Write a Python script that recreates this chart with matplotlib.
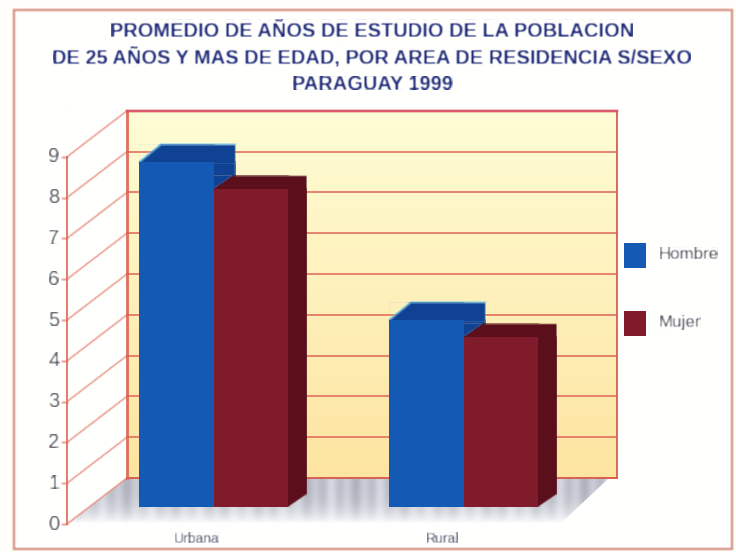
import numpy as np
import matplotlib
matplotlib.use('Agg')
import matplotlib.pyplot as plt
from matplotlib.patches import Polygon, Rectangle

plt.rcParams['font.family'] = ['Liberation Sans', 'DejaVu Sans']

title_lines = ['PROMEDIO DE AÑOS DE ESTUDIO DE LA POBLACION',
               'DE 25 AÑOS Y MAS DE EDAD, POR AREA DE RESIDENCIA S/SEXO',
               'PARAGUAY 1999']
categories = ['Urbana', 'Rural']
series_names = ['Hombre', 'Mujer']
hombre = [8.45, 4.58]
mujer = [7.8, 4.17]
y_ticks = [0, 1, 2, 3, 4, 5, 6, 7, 8, 9]

# layout, in pixels of the 736x552 picture
W, H = 736, 552
PX_PER_UNIT = 40.8
Y0_PX = 524
FRONT_X = 67
BACK_X = 127
BACK_R = 617
FLOOR_FRONT_R = 560
DEPTH_DX = 60
DEPTH_DY = 46 / PX_PER_UNIT
BAR_BASE = 17 / PX_PER_UNIT
BAR_W = 74.5
BAR_X = [139, 389]
GRID = '#e2705f'


def py(p):
    # picture pixel row to value on the y scale
    return (Y0_PX - p) / PX_PER_UNIT


def blur(image, dpi):
    # small box blur, the reference is a soft scan
    out = image.copy()
    for axis in (0, 1):
        out = (np.roll(out, 1, axis) + 2 * out + np.roll(out, -1, axis)) / 4
    return out, 0, 0


def draw_bar(ax, x, value, front, back, dx, dy, edge=None):
    # one box of the pseudo 3d chart, the height comes from the value
    # top and side go in one polygon so no seam shows between them
    b = BAR_BASE
    t = BAR_BASE + value
    d = dy / PX_PER_UNIT
    shell = Polygon([(x, t), (x + dx, t + d), (x + BAR_W + dx, t + d), (x + BAR_W + dx, b + d), (x + BAR_W, b), (x, b)],
                    fc=back, ec='none', zorder=3)
    shell.set_agg_filter(blur)
    ax.add_patch(shell)
    box = Rectangle((x, b), BAR_W, value, fc=front, ec='none', zorder=4)
    box.set_agg_filter(blur)
    ax.add_patch(box)
    if edge:
        ax.plot([x, x + dx, x + BAR_W + dx], [t, t + d, t + d], color=edge, lw=1.0, zorder=3, agg_filter=blur)


fig = plt.figure(figsize=(7.36, 5.52), dpi=100, facecolor='#fffefb')
ax = fig.add_axes([0, 0, 1, 1])
ax.set_xlim(0, W)
ax.set_ylim(py(H), py(0))
ax.axis('off')

# outer frame
frame = Rectangle((14, py(549)), 718, py(10) - py(549), fc='#fffffd', ec='#d4907f', lw=1.6, zorder=0)
frame.set_agg_filter(blur)
ax.add_patch(frame)

# back wall with its yellow gradient
wall_top, wall_bottom = np.array([255, 253, 214]) / 255, np.array([253, 228, 160]) / 255
ramp = np.linspace(0, 1, 200)[:, None, None]
wall = wall_top + (wall_bottom - wall_top) * ramp
ax.imshow(wall, extent=(BACK_X, BACK_R, DEPTH_DY, DEPTH_DY + 9), aspect='auto', zorder=1)

# floor, grey streaks fading towards the front
floor_x = np.arange(FRONT_X, BACK_R)
streaks = 0.76 + 0.04 * np.sin(floor_x / 2.6) + 0.03 * np.sin(floor_x / 7.3)
fade = np.linspace(0, 1, 46)[:, None] ** 3
floor = np.zeros((46, len(floor_x), 3))
floor[..., 0] = streaks * (1 - fade) + fade
floor[..., 1] = (streaks + 0.01) * (1 - fade) + fade
floor[..., 2] = (streaks + 0.05) * (1 - fade) + fade
floor_im = ax.imshow(np.clip(floor, 0, 1), extent=(FRONT_X, BACK_R, 0, DEPTH_DY), aspect='auto', zorder=1, interpolation='bilinear')
floor_clip = Polygon([(FRONT_X, 0), (BACK_X, DEPTH_DY), (BACK_R - 8, DEPTH_DY), (FLOOR_FRONT_R, 0)], transform=ax.transData, fc='none', ec='none')
ax.add_patch(floor_clip)
floor_im.set_clip_path(floor_clip)
ax.set_xlim(0, W)
ax.set_ylim(py(H), py(0))

# grid on both walls and the y axis
for tick in y_ticks:
    back = tick + DEPTH_DY
    ax.plot([FRONT_X, BACK_X], [tick, back], color=GRID, lw=1.0, zorder=2, agg_filter=blur)
    ax.plot([BACK_X, BACK_R], [back, back], color=GRID, lw=1.2, zorder=2, agg_filter=blur)
    ax.plot([FRONT_X - 5, FRONT_X], [tick, tick], color=GRID, lw=1.0, zorder=2, agg_filter=blur)
    ax.text(FRONT_X - 13, tick, str(tick), ha='center', va='center', fontsize=14.5, color='#4a4a52', zorder=5, agg_filter=blur)
ax.plot([FRONT_X, FRONT_X], [0, 9], color=GRID, lw=1.3, zorder=2, agg_filter=blur)
ax.plot([BACK_X, BACK_X], [DEPTH_DY, DEPTH_DY + 9], color='#d8604f', lw=1.8, zorder=2, agg_filter=blur)
ax.plot([BACK_R, BACK_R], [DEPTH_DY, DEPTH_DY + 9], color='#d8604f', lw=1.3, zorder=2, agg_filter=blur)
ax.plot([BACK_X, BACK_R], [DEPTH_DY, DEPTH_DY], color='#d8604f', lw=1.3, zorder=2, agg_filter=blur)
ax.plot([BACK_X, BACK_R], [DEPTH_DY + 9, DEPTH_DY + 9], color='#d9506a', lw=1.6, zorder=2, agg_filter=blur)

# bars
for i in range(len(categories)):
    draw_bar(ax, BAR_X[i], hombre[i], '#1459b4', '#0f4292', 22, 18, edge='#3fb4e8')
    draw_bar(ax, BAR_X[i] + BAR_W, mujer[i], '#7f1b2a', '#5a0f1a', 19, 13)
    ax.text(BAR_X[i] + [58, 54][i], py(539), categories[i], ha='center', va='center', fontsize=10, color='#3a3f5c', zorder=5, agg_filter=blur)

# legend
legend_y = [243, 311]
legend_colors = ['#1459b4', '#7f1b2a']
for name, top, color in zip(series_names, legend_y, legend_colors):
    box = Rectangle((624, py(top + 25)), 22, 25 / PX_PER_UNIT, fc=color, ec='none', zorder=4)
    box.set_agg_filter(blur)
    ax.add_patch(box)
    ax.text(659, py(top + 12), name, ha='left', va='center', fontsize=12.2, color='#40404f', zorder=5, agg_filter=blur)

# title
for line, row in zip(title_lines, [32, 58, 85]):
    ax.text(372, py(row), line, ha='center', va='center', fontsize=14.4, fontweight='bold', color='#1e2a78', zorder=5, agg_filter=blur)

fig.savefig('out.png', dpi=100, facecolor=fig.get_facecolor())
